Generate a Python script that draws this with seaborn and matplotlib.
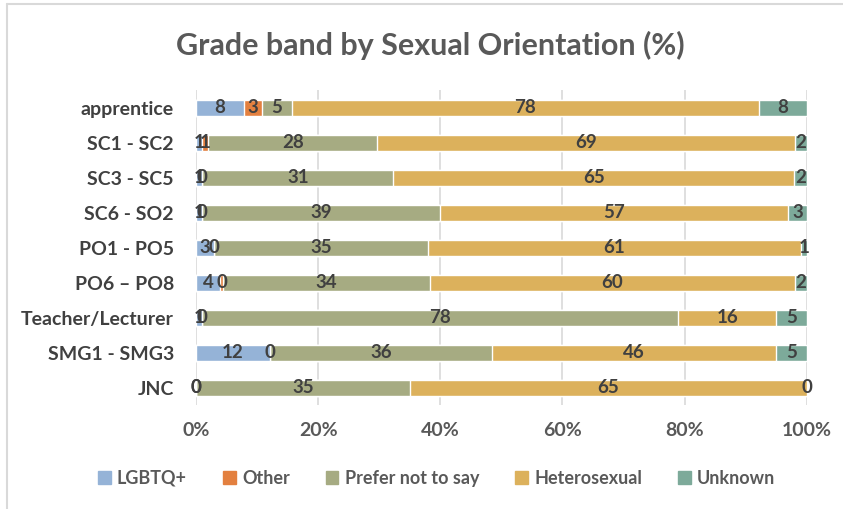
import pandas as pd
import matplotlib.pyplot as plt
import matplotlib.patches as mpatches
import seaborn as sns

# Data (values as shown on the data labels, %)
grades = ['apprentice', 'SC1 - SC2', 'SC3 - SC5', 'SC6 - SO2', 'PO1 - PO5',
          'PO6 – PO8', 'Teacher/Lecturer', 'SMG1 - SMG3', 'JNC']
lgbtq = [8, 1, 1, 1, 3, 4, 1, 12, 0]
other = [3, 1, 0, 0, 0, 0.4, 0, 0, 0]
prefer_not = [5, 28, 31, 39, 35, 34, 78, 36, 35]
hetero = [78, 69, 65, 57, 61, 60, 16, 46, 65]
unknown = [8, 2, 2, 3, 1, 2, 5, 5, 0]

series_names = ['LGBTQ+', 'Other', 'Prefer not to say', 'Heterosexual', 'Unknown']
colors = ['#95B3D7', '#E3803F', '#A6AB82', '#DCB15C', '#7DAA9A']

df = pd.DataFrame({'grade': grades, 'LGBTQ+': lgbtq, 'Other': other,
                   'Prefer not to say': prefer_not, 'Heterosexual': hetero,
                   'Unknown': unknown})

# 100% stacked: normalise each row
totals = df[series_names].sum(axis=1)
pct = df[series_names].div(totals, axis=0) * 100
cum = pct.cumsum(axis=1)
cum['grade'] = df['grade']

sns.set_style('white')
plt.rcParams['font.family'] = ['Lato', 'DejaVu Sans']

fig = plt.figure(figsize=(8.43, 5.09), dpi=100)
ax = fig.add_axes([0.2325, 0.2035, 0.7245, 0.619])

# draw from the full bar down so each layer sits on top of the previous
for name, col in reversed(list(zip(series_names, colors))):
    sns.barplot(data=cum, x=name, y='grade', order=grades, color=col,
                orient='h', width=0.45, saturation=1, ax=ax, zorder=3)

# data labels in the middle of each segment
for i in range(len(grades)):
    start = 0
    for name in series_names:
        w = pct.loc[i, name]
        ax.text(start + w / 2, i, '%.0f' % df.loc[i, name], ha='center',
                va='center', fontsize=13.5, fontweight='bold', color='#404040',
                zorder=5)
        start += w

ax.set_xlim(0, 100)
ax.set_ylim(len(grades) - 0.5, -0.5)
ax.set_xticks(range(0, 101, 20))
ax.set_xticklabels(['%d%%' % t for t in range(0, 101, 20)])
ax.xaxis.grid(True, color='#D9D9D9', lw=1.2, zorder=0)
ax.set_xlabel('')
ax.set_ylabel('')
for s in ax.spines.values():
    s.set_visible(False)
ax.tick_params(axis='x', length=0, pad=12, labelsize=14, labelcolor='#595959')
ax.tick_params(axis='y', length=0, pad=16, labelsize=14, labelcolor='#404040')
for lab in ax.get_xticklabels() + ax.get_yticklabels():
    lab.set_fontweight('bold')

fig.suptitle('Grade band by Sexual Orientation (%)', x=0.51, y=0.94,
             fontsize=22, fontweight='bold', color='#595959')

handles = [mpatches.Patch(color=c, label=n) for n, c in zip(series_names, colors)]
leg = fig.legend(handles=handles, loc='center', bbox_to_anchor=(0.518, 0.06),
                 ncol=5, frameon=False, handlelength=0.7, handleheight=0.7,
                 handletextpad=0.35, columnspacing=2.0,
                 prop={'size': 13, 'weight': 'bold'})
for t in leg.get_texts():
    t.set_color('#595959')

# chart frame (top and left edges visible)
fig.add_artist(plt.Line2D([0.008, 1.0], [0.993, 0.993], color='#D9D9D9', lw=1.5,
                          transform=fig.transFigure))
fig.add_artist(plt.Line2D([0.008, 0.008], [0.0, 0.993], color='#D9D9D9', lw=1.5,
                          transform=fig.transFigure))

fig.savefig('out.png', dpi=100)
